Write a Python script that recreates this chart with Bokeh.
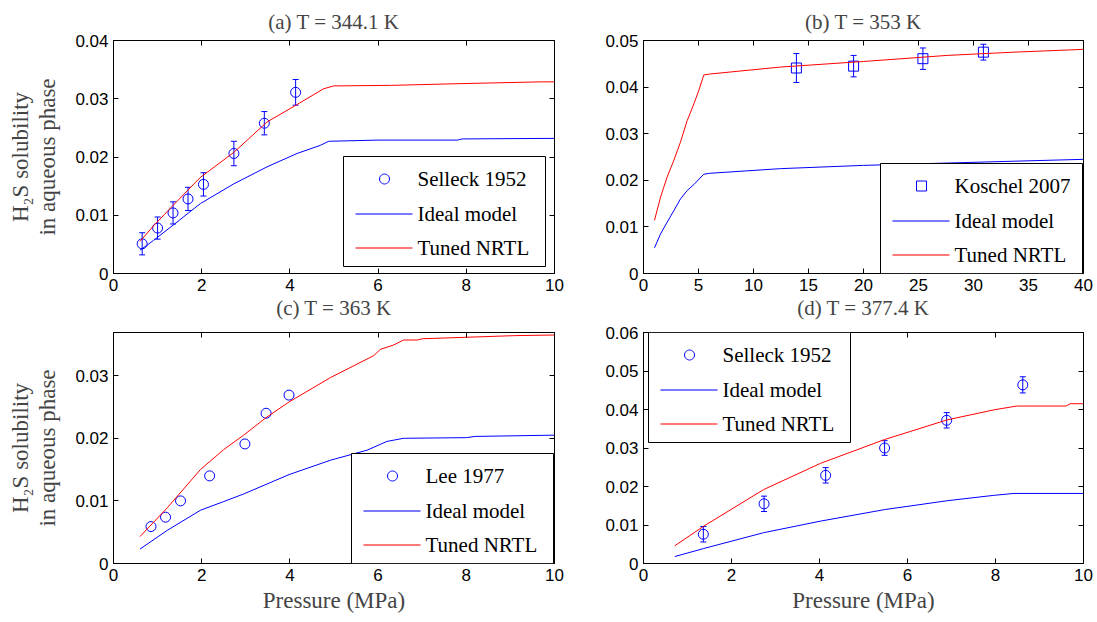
import math
from bokeh.plotting import figure
from bokeh.layouts import gridplot
from bokeh.models import (ColumnDataSource, Whisker, TeeHead, LinearAxis,
                          FixedTicker, Range1d, BoxAnnotation, Label,
                          PolyAnnotation, Title)
from bokeh.embed import file_html
from bokeh.resources import INLINE

# ---------------- data ----------------
# (a) T = 344.1 K
a_exp_p = [0.65, 1.0, 1.35, 1.69, 2.04, 2.73, 3.42, 4.13]
a_exp_x = [0.0051, 0.0078, 0.0104, 0.0128, 0.0153, 0.0206, 0.0258, 0.0311]
a_exp_err = [0.0019, 0.0019, 0.0019, 0.0020, 0.0020, 0.0021, 0.0020, 0.0022]
a_ideal_p = [0.6, 0.75, 0.91, 1.3, 1.97, 2.73, 3.48, 4.16, 4.69, 4.88, 6.0, 7.8, 7.9, 10.0]
a_ideal_x = [0.0040, 0.0048, 0.0057, 0.0080, 0.0120, 0.0154, 0.0183, 0.0206, 0.0220, 0.0227,
             0.0229, 0.0229, 0.0231, 0.0232]
a_nrtl_p = [0.6, 0.91, 1.3, 1.97, 2.73, 3.48, 4.16, 4.76, 4.99, 6.3, 7.9, 9.7, 10.0]
a_nrtl_x = [0.0055, 0.0082, 0.0113, 0.0165, 0.0208, 0.0260, 0.0290, 0.0317, 0.0322,
            0.0323, 0.0326, 0.0329, 0.0329]

# (b) T = 353 K
b_exp_p = [13.9, 19.1, 25.4, 30.9]
b_exp_x = [0.0441, 0.0445, 0.0461, 0.0475]
b_exp_err = [0.0031, 0.0023, 0.0023, 0.0017]
b_ideal_p = [1.0, 1.55, 2.15, 2.76, 3.36, 3.97, 4.58, 5.48, 6.0, 12.45, 20.0, 27.6, 33.7, 40.0]
b_ideal_x = [0.0055, 0.0085, 0.0110, 0.0135, 0.0160, 0.0178, 0.0191, 0.0213, 0.0215,
             0.0225, 0.0232, 0.0237, 0.0241, 0.0245]
b_nrtl_p = [1.0, 1.55, 2.15, 2.76, 3.36, 3.97, 4.58, 5.03, 5.48, 6.0, 12.45, 20.0, 27.6, 33.7, 40.0]
b_nrtl_x = [0.0114, 0.0164, 0.0207, 0.0243, 0.0282, 0.0328, 0.0364, 0.0393, 0.0426, 0.0428,
            0.0443, 0.0455, 0.0468, 0.0475, 0.0481]

# (c) T = 363 K
c_exp_p = [0.85, 1.18, 1.52, 2.18, 2.98, 3.46, 3.98]
c_exp_x = [0.0059, 0.0074, 0.0100, 0.0140, 0.0191, 0.0240, 0.0269]
c_ideal_p = [0.6, 1.22, 1.97, 2.5, 2.95, 3.98, 4.92, 5.75, 6.2, 6.58, 8.0, 8.2, 10.0]
c_ideal_x = [0.0023, 0.0053, 0.0085, 0.0099, 0.0111, 0.0142, 0.0165, 0.0181, 0.0195, 0.0200,
             0.0201, 0.0203, 0.0205]
c_nrtl_p = [0.6, 1.22, 1.97, 2.5, 2.95, 3.46, 3.98, 4.92, 5.9, 6.05, 6.35, 6.58, 6.9, 7.0, 9.1, 10.0]
c_nrtl_x = [0.0043, 0.0089, 0.0150, 0.0182, 0.0205, 0.0233, 0.0258, 0.0297, 0.0332, 0.0342,
            0.0349, 0.0357, 0.0357, 0.0359, 0.0364, 0.0365]

# (d) T = 377.4 K
d_exp_p = [1.36, 2.74, 4.14, 5.48, 6.89, 8.62]
d_exp_x = [0.0076, 0.0155, 0.0229, 0.0300, 0.0372, 0.0464]
d_exp_err = [0.0020, 0.0020, 0.0020, 0.0019, 0.0020, 0.0021]
d_ideal_p = [0.71, 1.37, 2.73, 4.02, 5.48, 6.9, 7.96, 8.42, 10.0]
d_ideal_x = [0.0018, 0.0039, 0.0080, 0.0110, 0.0140, 0.0163, 0.0177, 0.0182, 0.0182]
d_nrtl_p = [0.71, 1.37, 2.73, 4.02, 5.48, 6.9, 7.96, 8.48, 9.6, 9.7, 10.0]
d_nrtl_x = [0.0046, 0.0097, 0.0192, 0.0260, 0.0322, 0.0373, 0.0399, 0.0409, 0.0409,
            0.0415, 0.0415]

# ticks
x_ticks_10 = [0, 2, 4, 6, 8, 10]
x_labels_10 = ["0", "2", "4", "6", "8", "10"]
x_ticks_40 = [0, 5, 10, 15, 20, 25, 30, 35, 40]
x_labels_40 = ["0", "5", "10", "15", "20", "25", "30", "35", "40"]
y_ticks_a = [0, 0.01, 0.02, 0.03, 0.04]
y_labels_a = ["0", "0.01", "0.02", "0.03", "0.04"]
y_ticks_b = [0, 0.01, 0.02, 0.03, 0.04, 0.05]
y_labels_b = ["0", "0.01", "0.02", "0.03", "0.04", "0.05"]
y_ticks_c = [0, 0.01, 0.02, 0.03]
y_labels_c = ["0", "0.01", "0.02", "0.03"]
y_ticks_d = [0, 0.01, 0.02, 0.03, 0.04, 0.05, 0.06]
y_labels_d = ["0", "0.01", "0.02", "0.03", "0.04", "0.05", "0.06"]

titles = ["(a) T = 344.1 K", "(b) T = 353 K", "(c) T = 363 K", "(d) T = 377.4 K"]
exp_names = ["Selleck 1952", "Koschel 2007", "Lee 1977", "Selleck 1952"]
ideal_name = "Ideal model"
nrtl_name = "Tuned NRTL"
x_label = "Pressure (MPa)"
y_label = "H\u2082S solubility\nin aqueous phase"

SERIF = "Liberation Serif"
SANS = "Liberation Sans"
BLUE = "#0000ff"
RED = "#ff0000"

# legend box layout (pixels inside the plot frame, y measured upward)
LEG_W, LEG_H = 202, 110
LEG_ROWS = [22.5, 57.5, 91.5]
LEG_LINE_X0, LEG_LINE_X1, LEG_MARK_X, LEG_TEXT_X = 12, 69, 41, 74
MARK_R = 5


def style_axis(ax, ticks, labels, show_labels=True):
    ax.ticker = FixedTicker(ticks=ticks)
    ax.minor_tick_line_color = None
    ax.major_tick_in = 5
    ax.major_tick_out = 0
    ax.axis_line_color = "black"
    ax.major_tick_line_color = "black"
    if show_labels:
        ax.major_label_overrides = {t: l for t, l in zip(ticks, labels)}
        ax.major_label_text_font = SANS
        ax.major_label_text_font_size = "17px"
        ax.major_label_text_color = "black"
        ax.major_label_standoff = 5
    else:
        ax.major_label_overrides = {t: "" for t in ticks}
        ax.major_label_text_font_size = "2px"
        ax.major_label_standoff = 0


def make_title(text, standoff):
    return Title(text=text, align="center", text_font=SERIF, text_font_size="21px",
                 text_font_style="normal", standoff=standoff)


def add_legend(p, left, top, marker, names):
    bottom = max(top - LEG_H, 0)
    p.add_layout(BoxAnnotation(left=left, right=left + LEG_W, top=top, bottom=bottom,
                               left_units="screen", right_units="screen",
                               top_units="screen", bottom_units="screen",
                               fill_color="white", fill_alpha=1.0,
                               line_color="black", line_width=1, line_alpha=1.0))
    # marker row
    cx, cy = left + LEG_MARK_X, top - LEG_ROWS[0]
    if marker == "square":
        xs = [cx - MARK_R, cx + MARK_R, cx + MARK_R, cx - MARK_R]
        ys = [cy - MARK_R, cy - MARK_R, cy + MARK_R, cy + MARK_R]
    else:
        n = 28
        xs = [cx + MARK_R * math.cos(2 * math.pi * k / n) for k in range(n)]
        ys = [cy + MARK_R * math.sin(2 * math.pi * k / n) for k in range(n)]
    p.add_layout(PolyAnnotation(xs=xs, ys=ys, xs_units="screen", ys_units="screen",
                                fill_color=None, fill_alpha=0, line_color=BLUE,
                                line_width=1, line_alpha=1.0))
    # line swatches (thin filled strips on whole pixels)
    for row, col in ((1, BLUE), (2, RED)):
        y = top - LEG_ROWS[row]
        p.add_layout(BoxAnnotation(left=left + LEG_LINE_X0, right=left + LEG_LINE_X1,
                                   top=y + 0.5, bottom=y - 0.5,
                                   left_units="screen", right_units="screen",
                                   top_units="screen", bottom_units="screen",
                                   fill_color=col, fill_alpha=1.0,
                                   line_color=col, line_width=0.1))
    for row, name in enumerate(names):
        p.add_layout(Label(x=left + LEG_TEXT_X, y=top - LEG_ROWS[row], text=name,
                           x_units="screen", y_units="screen",
                           text_font=SERIF, text_font_size="21px",
                           text_color="black", text_baseline="middle",
                           text_align="left"))


def make_panel(title, xr, yr, xt, xl, yt, yl, exp_p, exp_x, exp_err, marker,
               ideal_p, ideal_x, nrtl_p, nrtl_x, exp_name, width, height,
               borders, leg_pos, xlab=None, ylab=None, title_standoff=13):
    p = figure(width=width, height=height, output_backend="svg",
               toolbar_location=None, x_range=Range1d(*xr), y_range=Range1d(*yr),
               min_border_left=borders[0], min_border_right=borders[1],
               min_border_top=borders[2], min_border_bottom=borders[3])
    p.xgrid.visible = False
    p.ygrid.visible = False
    p.outline_line_color = "black"
    p.outline_line_width = 1
    p.background_fill_color = "white"
    p.border_fill_color = "white"
    if title:
        p.title = make_title(title, title_standoff)
    else:
        p.title = None

    xaxis = p.xaxis[0]
    yaxis = p.yaxis[0]
    style_axis(xaxis, xt, xl)
    style_axis(yaxis, yt, yl)
    top = LinearAxis()
    style_axis(top, xt, xl, show_labels=False)
    p.add_layout(top, "above")
    right = LinearAxis()
    style_axis(right, yt, yl, show_labels=False)
    p.add_layout(right, "right")

    if xlab:
        xaxis.axis_label = xlab
        xaxis.axis_label_text_font = SERIF
        xaxis.axis_label_text_font_size = "23px"
        xaxis.axis_label_text_font_style = "normal"
        xaxis.axis_label_standoff = 4
    if ylab:
        yaxis.axis_label = ylab
        yaxis.axis_label_text_font = SERIF
        yaxis.axis_label_text_font_size = "23px"
        yaxis.axis_label_text_font_style = "normal"
        yaxis.axis_label_text_line_height = 1.08
        yaxis.axis_label_standoff = 12

    src = dict(p=exp_p, x=exp_x)
    if exp_err is not None:
        src["upper"] = [v + e for v, e in zip(exp_x, exp_err)]
        src["lower"] = [v - e for v, e in zip(exp_x, exp_err)]
    source = ColumnDataSource(src)
    if exp_err is not None:
        w = Whisker(source=source, base="p", upper="upper", lower="lower",
                    dimension="height", line_color=BLUE, line_width=1,
                    upper_head=TeeHead(size=6, line_color=BLUE, line_width=1),
                    lower_head=TeeHead(size=6, line_color=BLUE, line_width=1))
        p.add_layout(w)
    p.scatter("p", "x", source=source, marker=marker, size=10,
              fill_color=None, line_color=BLUE, line_width=1)
    p.line(ideal_p, ideal_x, line_color=BLUE, line_width=1)
    p.line(nrtl_p, nrtl_x, line_color=RED, line_width=1)

    add_legend(p, leg_pos[0], leg_pos[1], marker, [exp_name, ideal_name, nrtl_name])
    return p


TOP_H, BOT_H = 322, 300

pa = make_panel(titles[0], (0, 10), (0, 0.04), x_ticks_10, x_labels_10, y_ticks_a, y_labels_a,
                a_exp_p, a_exp_x, a_exp_err, "circle", a_ideal_p, a_ideal_x, a_nrtl_p, a_nrtl_x,
                exp_names[0], 600, TOP_H, (113, 46, 40, TOP_H - 273), (230, 117), ylab=y_label)
pb = make_panel(titles[1], (0, 40), (0, 0.05), x_ticks_40, x_labels_40, y_ticks_b, y_labels_b,
                b_exp_p, b_exp_x, b_exp_err, "square", b_ideal_p, b_ideal_x, b_nrtl_p, b_nrtl_x,
                exp_names[1], 497, TOP_H, (43, 14, 40, TOP_H - 273), (237, 110))
pc = make_panel(None, (0, 10), (0, 0.0369), x_ticks_10, x_labels_10, y_ticks_c, y_labels_c,
                c_exp_p, c_exp_x, None, "circle", c_ideal_p, c_ideal_x, c_nrtl_p, c_nrtl_x,
                exp_names[2], 600, BOT_H, (113, 46, 332 - TOP_H, 59), (238, 110),
                xlab=x_label, ylab=y_label)
pd_ = make_panel(None, (0, 10), (0, 0.06), x_ticks_10, x_labels_10, y_ticks_d, y_labels_d,
                 d_exp_p, d_exp_x, d_exp_err, "circle", d_ideal_p, d_ideal_x, d_nrtl_p, d_nrtl_x,
                 exp_names[3], 497, BOT_H, (43, 14, 332 - TOP_H, 59), (5, 231), xlab=x_label)

# titles of the lower panels sit in the gap between the rows
pa.add_layout(make_title(titles[2], 0), "below")
pb.add_layout(make_title(titles[3], 0), "below")

grid = gridplot([[pa, pb], [pc, pd_]], toolbar_location=None)

open("out.html", "w").write(file_html(grid, INLINE))
